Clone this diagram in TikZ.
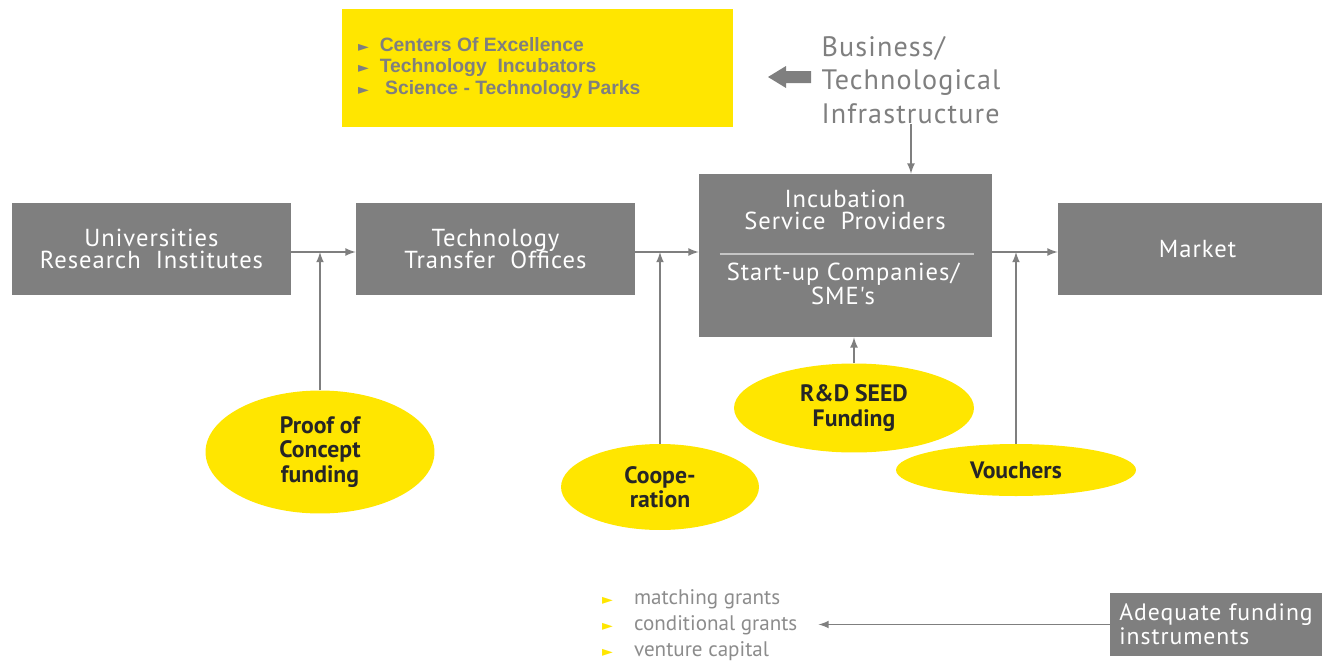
\documentclass[tikz,border=0pt]{standalone}
\usepackage{fontspec}
\setmainfont{PT Sans}
\newfontfamily\boxfont[LetterSpace=4]{PT Sans}
\newfontfamily\listfont{Liberation Sans}
\newfontfamily\symfont{DejaVu Sans}
\usetikzlibrary{shapes.geometric}
\definecolor{boxgray}{HTML}{7F7F7F}
\definecolor{eyellow}{HTML}{FFE600}
\definecolor{txtgray}{HTML}{8C8C8C}
\newcommand{\tri}[1]{{\symfont\color{#1}\footnotesize ►}}

\begin{document}
\begin{tikzpicture}[>=latex, x=0.02cm, y=-0.02cm,
  graybox/.style={fill=boxgray, text=white, inner sep=0pt, align=center, font=\boxfont\fontsize{14}{13}\selectfont},
  fund/.style={ellipse, fill=eyellow, inner sep=0pt, align=center, text=black!85, font=\bfseries\fontsize{13.5}{13.8}\selectfont},
  link/.style={->, boxgray, line width=1pt}]
\useasboundingbox (0,0) rectangle (1322,660);
\coordinate (flow) at (0,252);

% infrastructure
\node[fill=eyellow, minimum width=7.82cm, minimum height=2.36cm] (cluster) at (537.5,68) {};
\node[anchor=west, align=left, text=boxgray, font=\listfont\bfseries\fontsize{11}{12}\selectfont] (clusterlist) at (352,68)
  {\tri{boxgray}\ \ Centers Of Excellence\\ \tri{boxgray}\ \ Technology\ \ Incubators\\ \tri{boxgray}\ \ \ Science - Technology Parks};
\fill[boxgray] (768,77) -- (786,66) -- (786,71) -- (811,71) -- (811,83) -- (786,83) -- (786,88) -- cycle;
\node[align=left, text=boxgray, inner sep=0pt, font=\boxfont\fontsize{16}{19}\selectfont] (infra) at (911,80) {Business/\\Technological\\Infrastructure};

% chain
\node[graybox, minimum width=5.58cm, minimum height=1.84cm] (univ) at (151.5,249) {Universities\\Research\ \ Institutes};
\node[graybox, minimum width=5.58cm, minimum height=1.84cm] (tto) at (495.5,249) {Technology\\Transfer\ \ Offices};
\node[graybox, minimum width=5.86cm, minimum height=3.26cm] (inc) at (845.5,255.5) {};
\node[text=white, align=center, font=\boxfont\fontsize{14}{12.5}\selectfont] (isp) at (845,210) {Incubation\\Service\ \ Providers};
\node[text=white, align=center, font=\boxfont\fontsize{14}{13.5}\selectfont] (sme) at (843,284) {Start-up Companies/\\SME's};
\draw[white!55!boxgray, line width=1pt] (inc.west |- 0,254) ++(21,0) -- (974,254);
\node[graybox, minimum width=5.28cm, minimum height=1.84cm] (market) at (1190,249) {\ \ Market};

\draw[link] (univ.east |- flow) -- (tto.west |- flow);
\draw[link] (tto.east |- flow) -- (inc.west |- flow);
\draw[link] (inc.east |- flow) -- (market.west |- flow);
\draw[link] (infra.south) -- (infra.south |- inc.north);

% funding
\node[fund, minimum width=4.58cm, minimum height=2.46cm] (poc) at (320,452) {Proof of\\Concept\\funding};
\node[fund, minimum width=3.96cm, minimum height=1.72cm] (coop) at (660,487) {Coope-\\ration};
\node[fund, minimum width=4.8cm, minimum height=1.78cm] (seed) at (854,408) {R\&D SEED\\Funding};
\node[fund, minimum width=4.8cm, minimum height=1.04cm] (vouch) at (1016,470) {Vouchers};

\draw[link] (poc.north) -- (poc.north |- flow);
\draw[link] (coop.north) -- (coop.north |- flow);
\draw[link] (seed.north) -- (seed.north |- inc.south);
\draw[link] (vouch.north) -- (vouch.north |- flow);

% instruments
\node[graybox, align=left, minimum width=4.24cm, minimum height=1.26cm, font=\boxfont\fontsize{13.5}{13.5}\selectfont] (adequate) at (1216,624.5) {Adequate funding\\instruments};
\node[anchor=west, align=left, text=txtgray, font=\fontsize{12}{14.7}\selectfont] (instruments) at (596,625)
  {\tri{eyellow}\quad matching grants\\ \tri{eyellow}\quad conditional grants\\ \tri{eyellow}\quad venture capital};
\draw[link] (adequate.west) -- ([xshift=0.3cm]instruments.east |- adequate.west);

\end{tikzpicture}
\end{document}
